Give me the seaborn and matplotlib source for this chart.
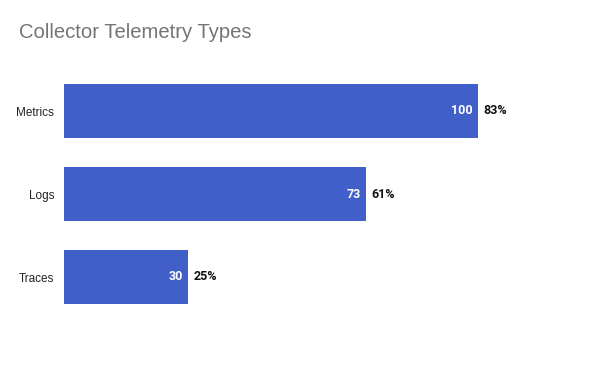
import matplotlib
matplotlib.use("Agg")
import matplotlib.pyplot as plt
import seaborn as sns
import pandas as pd

categories = ["Metrics", "Logs", "Traces"]
values = [100, 73, 30]
percent_labels = ["83%", "61%", "25%"]

sns.set_theme(style="white")
plt.rcParams['font.family'] = ['Liberation Sans', 'DejaVu Sans']

df = pd.DataFrame({"type": categories, "count": values})

fig = plt.figure(figsize=(6, 3.71), dpi=100)
H = 371.0
ax = fig.add_axes([64/600, 1 - 360/H, (581.5-64)/600, (360-28)/H])
sns.barplot(data=df, y="type", x="count", orient="h", color="#415FC8",
            saturation=1, width=0.65, linewidth=0, ax=ax)
ax.set_xlim(0, 125)
ax.set_ylim(3.0, -1.0)
ax.set_xlabel("")
ax.set_ylabel("")
ax.set_xticks([])
sns.despine(ax=ax, left=True, bottom=True, top=True, right=True)
ax.tick_params(axis="y", length=0, pad=7, labelsize=8.5, labelcolor="#222222")

for i, (v, p) in enumerate(zip(values, percent_labels)):
    ax.annotate(str(v), xy=(v, i), xytext=(-5, 0), textcoords="offset pixels",
                ha="right", va="center", fontsize=9, fontweight="bold",
                color="white", family=["Roboto", "DejaVu Sans"])
    ax.annotate(p, xy=(v, i), xytext=(5, 0), textcoords="offset pixels",
                ha="left", va="center", fontsize=9, fontweight="bold",
                color="#111111", family=["Roboto", "DejaVu Sans"])

fig.text(19/600, 1 - 32/H, "Collector Telemetry Types", fontsize=14.6,
         color="#757575", ha="left", va="center")

fig.savefig("out.png", dpi=100)
